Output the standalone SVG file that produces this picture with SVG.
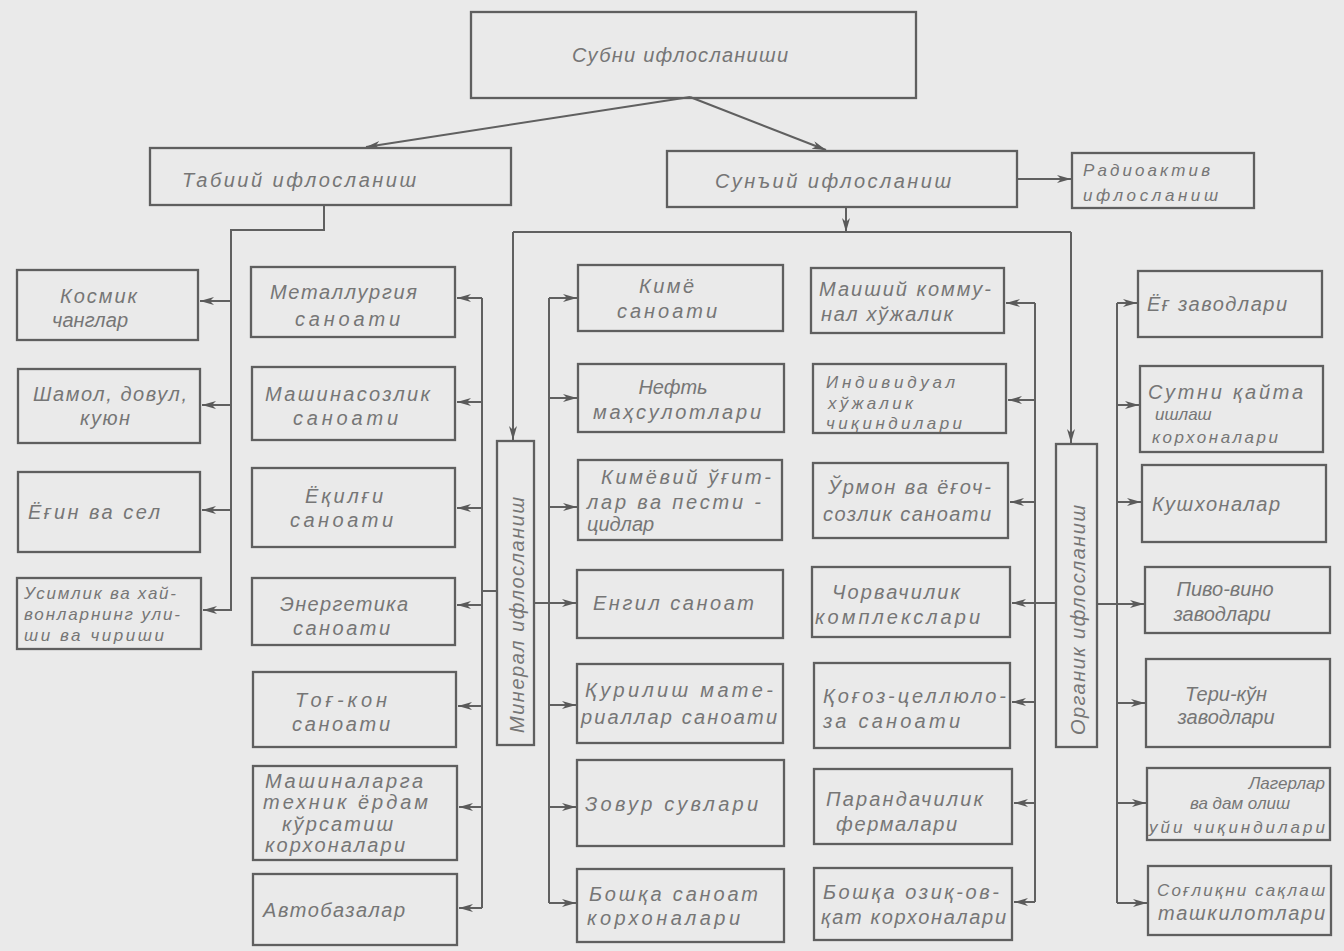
<svg xmlns="http://www.w3.org/2000/svg" width="1344" height="951" viewBox="0 0 1344 951">
<style>
.b{fill:none;stroke:#5f5f5f;stroke-width:2.3}
.c{fill:none;stroke:#606060;stroke-width:2}
.t{font-family:"Liberation Sans","DejaVu Sans",sans-serif;font-style:italic;font-size:20px;fill:#767676}
.s{font-size:17px}
.m{text-anchor:middle}
</style>
<defs>
<marker id="ah" markerUnits="userSpaceOnUse" markerWidth="16" markerHeight="10" refX="14" refY="4" orient="auto">
<path d="M0,0 L14,4 L0,8 L4,4 z" fill="#5a5a5a"/>
</marker>
</defs>
<rect x="0" y="0" width="1344" height="951" fill="#eaeaea"/>

<g id="connectors" class="c">
<path d="M690,97 L366,147" marker-end="url(#ah)"/>
<path d="M690,97 L826,150" marker-end="url(#ah)"/>
<path d="M1017,179 H1071" marker-end="url(#ah)"/>
<path d="M846,207 V232" marker-end="url(#ah)"/>
<path d="M513,232 H1071"/>
<path d="M513,232 V440" marker-end="url(#ah)"/>
<path d="M1071,232 V443" marker-end="url(#ah)"/>
<path d="M324,205 V230 H231 V610 H203" marker-end="url(#ah)"/>
<path d="M231,301 H200" marker-end="url(#ah)"/>
<path d="M231,405 H202" marker-end="url(#ah)"/>
<path d="M231,510 H202" marker-end="url(#ah)"/>
<path d="M482,298 V908"/>
<path d="M482,298 H457" marker-end="url(#ah)"/>
<path d="M482,402 H457" marker-end="url(#ah)"/>
<path d="M482,508 H457" marker-end="url(#ah)"/>
<path d="M482,605 H457" marker-end="url(#ah)"/>
<path d="M482,706 H458" marker-end="url(#ah)"/>
<path d="M482,807 H459" marker-end="url(#ah)"/>
<path d="M482,908 H459" marker-end="url(#ah)"/>
<path d="M497,591 H482"/>
<path d="M549,298 V903"/>
<path d="M549,298 H577" marker-end="url(#ah)"/>
<path d="M549,398 H577" marker-end="url(#ah)"/>
<path d="M549,507 H577" marker-end="url(#ah)"/>
<path d="M534,603 H576" marker-end="url(#ah)"/>
<path d="M549,705 H576" marker-end="url(#ah)"/>
<path d="M549,807 H576" marker-end="url(#ah)"/>
<path d="M549,903 H576" marker-end="url(#ah)"/>
<path d="M1035,303 V902"/>
<path d="M1035,303 H1006" marker-end="url(#ah)"/>
<path d="M1035,400 H1008" marker-end="url(#ah)"/>
<path d="M1035,502 H1010" marker-end="url(#ah)"/>
<path d="M1056,603 H1012" marker-end="url(#ah)"/>
<path d="M1035,702 H1012" marker-end="url(#ah)"/>
<path d="M1035,803 H1014" marker-end="url(#ah)"/>
<path d="M1035,902 H1014" marker-end="url(#ah)"/>
<path d="M1117,303 V903"/>
<path d="M1117,303 H1137" marker-end="url(#ah)"/>
<path d="M1117,405 H1139" marker-end="url(#ah)"/>
<path d="M1117,502 H1141" marker-end="url(#ah)"/>
<path d="M1097,604 H1144" marker-end="url(#ah)"/>
<path d="M1117,703 H1145" marker-end="url(#ah)"/>
<path d="M1117,803 H1146" marker-end="url(#ah)"/>
<path d="M1117,903 H1147" marker-end="url(#ah)"/>
</g>

<g id="n-root"><rect class="b" x="471" y="12" width="445" height="86"/><text class="t" x="572" y="62" textLength="216">Субни ифлосланиши</text></g>
<g id="n-natural"><rect class="b" x="150" y="148" width="361" height="57"/><text class="t" x="182" y="187" textLength="234">Табиий ифлосланиш</text></g>
<g id="n-artificial"><rect class="b" x="667" y="151" width="350" height="56"/><text class="t" x="715" y="188" textLength="236">Сунъий ифлосланиш</text></g>
<g id="n-radio"><rect class="b" x="1072" y="153" width="182" height="55"/><text class="t s" x="1083" y="176" textLength="127">Радиоактив</text><text class="t s" x="1083" y="201" textLength="135">ифлосланиш</text></g>

<g id="n-kosmik"><rect class="b" x="17" y="270" width="181" height="70"/><text class="t" x="60" y="303" textLength="77">Космик</text><text class="t" x="52" y="327" textLength="76">чанглар</text></g>
<g id="n-shamol"><rect class="b" x="18" y="369" width="182" height="74"/><text class="t" x="33" y="401" textLength="154">Шамол, довул,</text><text class="t" x="80" y="425" textLength="50">куюн</text></g>
<g id="n-yogin"><rect class="b" x="18" y="472" width="182" height="80"/><text class="t" x="28" y="519" textLength="132">Ёғин ва сел</text></g>
<g id="n-usimlik"><rect class="b" x="17" y="578" width="184" height="71"/><text class="t s" x="24" y="599" textLength="152">Усимлик ва хай-</text><text class="t s" x="24" y="620" textLength="156">вонларнинг ули-</text><text class="t s" x="24" y="641" textLength="140">ши ва чириши</text></g>

<g id="n-metall"><rect class="b" x="251" y="267" width="204" height="70"/><text class="t" x="270" y="299" textLength="147">Металлургия</text><text class="t" x="295" y="326" textLength="105">саноати</text></g>
<g id="n-mashina"><rect class="b" x="252" y="367" width="203" height="73"/><text class="t" x="265" y="401" textLength="165">Машинасозлик</text><text class="t" x="293" y="425" textLength="105">саноати</text></g>
<g id="n-yoqilgi"><rect class="b" x="252" y="468" width="203" height="79"/><text class="t" x="305" y="503" textLength="78">Ёқилғи</text><text class="t" x="290" y="527" textLength="103">саноати</text></g>
<g id="n-energ"><rect class="b" x="252" y="578" width="203" height="67"/><text class="t" x="280" y="611" textLength="128">Энергетика</text><text class="t" x="293" y="635" textLength="97">саноати</text></g>
<g id="n-togkon"><rect class="b" x="253" y="672" width="203" height="75"/><text class="t" x="295" y="707" textLength="92">Тоғ-кон</text><text class="t" x="292" y="731" textLength="98">саноати</text></g>
<g id="n-tex"><rect class="b" x="253" y="766" width="204" height="94"/><text class="t" x="265" y="788" textLength="158">Машиналарга</text><text class="t" x="263" y="809" textLength="165">техник ёрдам</text><text class="t" x="282" y="831" textLength="111">кўрсатиш</text><text class="t" x="265" y="852" textLength="140">корхоналари</text></g>
<g id="n-avto"><rect class="b" x="253" y="874" width="204" height="71"/><text class="t" x="263" y="917" textLength="142">Автобазалар</text></g>

<g id="n-mineral"><rect class="b" x="497" y="441" width="37" height="304"/><text class="t" transform="translate(524,733) rotate(-90)" x="0" y="0" textLength="236">Минерал ифлосланиш</text></g>

<g id="n-kimyo"><rect class="b" x="578" y="265" width="205" height="66"/><text class="t" x="639" y="293" textLength="55">Кимё</text><text class="t" x="617" y="318" textLength="100">саноати</text></g>
<g id="n-neft"><rect class="b" x="578" y="364" width="206" height="68"/><text class="t m" x="673" y="394">Нефть</text><text class="t" x="593" y="419" textLength="168">маҳсулотлари</text></g>
<g id="n-ogit"><rect class="b" x="578" y="460" width="204" height="80"/><text class="t" x="601" y="484" textLength="170">Кимёвий ўғит-</text><text class="t" x="587" y="509" textLength="174">лар ва пести -</text><text class="t" x="587" y="531">цидлар</text></g>
<g id="n-yengil"><rect class="b" x="577" y="570" width="206" height="68"/><text class="t" x="593" y="610" textLength="161">Енгил саноат</text></g>
<g id="n-qurilish"><rect class="b" x="577" y="664" width="206" height="79"/><text class="t" x="585" y="697" textLength="188">Қурилиш мате-</text><text class="t" x="581" y="724" textLength="196">риаллар саноати</text></g>
<g id="n-zovur"><rect class="b" x="577" y="760" width="207" height="86"/><text class="t" x="585" y="811" textLength="173">Зовур сувлари</text></g>
<g id="n-boshqa1"><rect class="b" x="577" y="869" width="207" height="73"/><text class="t" x="589" y="901" textLength="169">Бошқа саноат</text><text class="t" x="587" y="925" textLength="153">корхоналари</text></g>

<g id="n-maishiy"><rect class="b" x="811" y="268" width="193" height="65"/><text class="t" x="819" y="296" textLength="172">Маиший комму-</text><text class="t" x="821" y="321" textLength="132">нал хўжалик</text></g>
<g id="n-individ"><rect class="b" x="813" y="364" width="193" height="69"/><text class="t s" x="826" y="388" textLength="129">Индивидуал</text><text class="t s" x="828" y="409" textLength="85">хўжалик</text><text class="t s" x="826" y="429" textLength="136">чиқиндилари</text></g>
<g id="n-urmon"><rect class="b" x="813" y="463" width="195" height="75"/><text class="t" x="828" y="494" textLength="163">Ўрмон ва ёғоч-</text><text class="t" x="823" y="521" textLength="168">созлик саноати</text></g>
<g id="n-chorva"><rect class="b" x="812" y="567" width="198" height="70"/><text class="t" x="832" y="599" textLength="128">Чорвачилик</text><text class="t" x="815" y="624" textLength="165">комплекслари</text></g>
<g id="n-qogoz"><rect class="b" x="814" y="663" width="196" height="85"/><text class="t" x="823" y="703" textLength="183">Қоғоз-целлюло-</text><text class="t" x="823" y="728" textLength="137">за саноати</text></g>
<g id="n-paranda"><rect class="b" x="814" y="769" width="198" height="75"/><text class="t" x="826" y="806" textLength="157">Парандачилик</text><text class="t" x="836" y="831" textLength="121">фермалари</text></g>
<g id="n-boshqa2"><rect class="b" x="814" y="868" width="198" height="72"/><text class="t" x="823" y="899" textLength="176">Бошқа озиқ-ов-</text><text class="t" x="821" y="924" textLength="185">қат корхоналари</text></g>

<g id="n-organik"><rect class="b" x="1056" y="444" width="41" height="303"/><text class="t" transform="translate(1085,735) rotate(-90)" x="0" y="0" textLength="230">Органик ифлосланиш</text></g>

<g id="n-yog"><rect class="b" x="1138" y="271" width="184" height="66"/><text class="t" x="1147" y="311" textLength="140">Ёғ заводлари</text></g>
<g id="n-sut"><rect class="b" x="1140" y="366" width="183" height="86"/><text class="t" x="1148" y="399" textLength="155">Сутни қайта</text><text class="t s" x="1155" y="420">ишлаш</text><text class="t s" x="1152" y="443" textLength="126">корхоналари</text></g>
<g id="n-qush"><rect class="b" x="1142" y="465" width="184" height="77"/><text class="t" x="1152" y="511" textLength="128">Кушхоналар</text></g>
<g id="n-pivo"><rect class="b" x="1145" y="567" width="185" height="66"/><text class="t m" x="1225" y="596">Пиво-вино</text><text class="t m" x="1222" y="621">заводлари</text></g>
<g id="n-teri"><rect class="b" x="1146" y="659" width="184" height="88"/><text class="t m" x="1226" y="701">Тери-кўн</text><text class="t m" x="1226" y="724">заводлари</text></g>
<g id="n-lager"><rect class="b" x="1147" y="768" width="183" height="72"/><text class="t s" x="1325" y="789" text-anchor="end">Лагерлар</text><text class="t s m" x="1240" y="809">ва дам олиш</text><text class="t s" x="1149" y="833" textLength="176">уйи чиқиндилари</text></g>
<g id="n-sogliq"><rect class="b" x="1148" y="866" width="183" height="69"/><text class="t s" x="1157" y="896" textLength="168">Соғлиқни сақлаш</text><text class="t" x="1158" y="920" textLength="167">ташкилотлари</text></g>
</svg>
